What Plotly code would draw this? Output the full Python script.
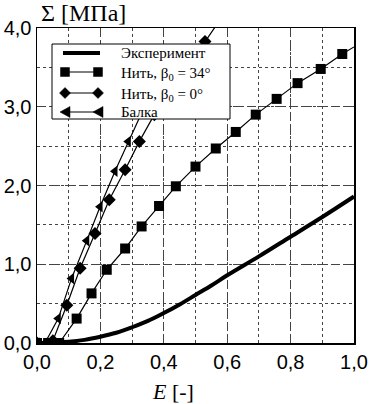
import plotly.graph_objects as go

# Experiment (thick line)
exp_E = [0.0, 0.03, 0.06, 0.1, 0.15, 0.2, 0.25, 0.3, 0.35, 0.4, 0.45, 0.5, 0.55, 0.6, 0.7, 0.8, 0.9, 1.0]
exp_S = [0.0, 0.0, 0.005, 0.015, 0.04, 0.08, 0.13, 0.2, 0.28, 0.38, 0.49, 0.61, 0.73, 0.86, 1.1, 1.35, 1.6, 1.86]

# Нить, beta0 = 34 deg (squares)
sq_E = [0.0, 0.035, 0.07, 0.125, 0.172, 0.22, 0.278, 0.33, 0.385, 0.438, 0.50, 0.564, 0.627, 0.69, 0.756, 0.822, 0.895, 0.963, 1.0]
sq_S = [0.0, 0.0, 0.0, 0.31, 0.63, 0.93, 1.20, 1.48, 1.74, 1.99, 2.24, 2.47, 2.68, 2.90, 3.10, 3.30, 3.48, 3.67, 3.76]

# Нить, beta0 = 0 deg (diamonds)
di_E = [0.0, 0.05, 0.094, 0.136, 0.183, 0.228, 0.278, 0.323, 0.37, 0.42, 0.475, 0.53, 0.585]
di_S = [0.0, 0.03, 0.48, 0.95, 1.39, 1.82, 2.20, 2.56, 2.90, 3.20, 3.50, 3.83, 4.15]

# Балка (left triangles)
tr_E = [0.0, 0.025, 0.067, 0.109, 0.157, 0.199, 0.246, 0.288, 0.33, 0.37, 0.41]
tr_S = [0.0, 0.0, 0.31, 0.82, 1.30, 1.73, 2.18, 2.56, 2.92, 3.25, 3.6]

x_ticks = [0.0, 0.2, 0.4, 0.6, 0.8, 1.0]
y_ticks = [0.0, 1.0, 2.0, 3.0, 4.0]

names = ["Эксперимент", "Нить, β<sub>0</sub> = 34°", "Нить, β<sub>0</sub> = 0°", "Балка"]

SERIF = "Times New Roman"
SANS = "Arial"
W, H = 382, 404
ML, MR, MT, MB = 37, 28, 28, 61
PW, PH = W - ML - MR, H - MT - MB

def px(xp):
    return (xp - ML) / PW

def py(yp):
    return (H - MB - yp) / PH

fig = go.Figure()
fig.add_trace(go.Scatter(x=exp_E, y=exp_S, mode="lines", name=names[0],
                         line=dict(color="black", width=4, shape="spline")))
sq_colors = ["#000000"] * (len(sq_E) - 1) + ["rgba(0,0,0,0)"]
fig.add_trace(go.Scatter(x=sq_E, y=sq_S, mode="lines+markers", name=names[1],
                         line=dict(color="black", width=1.2),
                         marker=dict(symbol="square", size=10, color=sq_colors,
                                     line=dict(width=0))))
fig.add_trace(go.Scatter(x=di_E, y=di_S, mode="lines+markers", name=names[2],
                         line=dict(color="black", width=1.2),
                         marker=dict(symbol="diamond", size=10, color="#000000", line=dict(width=0))))
fig.add_trace(go.Scatter(x=tr_E, y=tr_S, mode="lines+markers", name=names[3],
                         line=dict(color="black", width=1.2),
                         marker=dict(symbol="triangle-left", size=10, color="#000000", line=dict(width=0))))

# ---- hand-built legend (box, samples, labels) ----
shapes = [dict(type="rect", xref="paper", yref="paper", layer="above",
               x0=px(52), x1=px(230), y0=py(119), y1=py(44),
               fillcolor="white", line=dict(color="black", width=1))]
annotations = []
rows_y = [53, 72, 93, 112]
glyphs = [None,
          "M-4.5,-4.5 L4.5,-4.5 L4.5,4.5 L-4.5,4.5 Z",
          "M0,-5.5 L5.5,0 L0,5.5 L-5.5,0 Z",
          "M-5,0 L5,5.5 L5,-5.5 Z"]
widths = [4, 1.2, 1.2, 1.2]
for name, ry, g, lw in zip(names, rows_y, glyphs, widths):
    shapes.append(dict(type="line", xref="paper", yref="paper", layer="above",
                       x0=px(63), x1=px(100), y0=py(ry), y1=py(ry),
                       line=dict(color="black", width=lw)))
    if g:
        for gx in (65, 98):
            shapes.append(dict(type="path", xref="paper", yref="paper", layer="above",
                               xsizemode="pixel", ysizemode="pixel",
                               xanchor=px(gx), yanchor=py(ry), path=g,
                               fillcolor="black", line=dict(color="black", width=0.5)))
    annotations.append(dict(text=name, xref="paper", yref="paper", x=px(119), y=py(ry),
                            xanchor="left", yanchor="middle", showarrow=False,
                            yshift=-2 if "sub" in name else 0,
                            font=dict(family=SERIF, size=15, color="black")))

annotations += [
    dict(text="Σ [МПа]", xref="paper", yref="paper", x=px(39), y=1.0, yshift=MT + 2,
         xanchor="left", yanchor="top", showarrow=False,
         font=dict(family=SERIF, size=24)),
    dict(text="<i>E</i> [-]", xref="paper", yref="paper", x=px(173), y=0, yshift=-34,
         xanchor="center", yanchor="top", showarrow=False,
         font=dict(family=SERIF, size=22)),
]

grid_col = "#444444"
fig.update_layout(
    width=W, height=H,
    margin=dict(l=ML, r=MR, t=MT, b=MB),
    paper_bgcolor="white", plot_bgcolor="white",
    separators=", ",
    font=dict(family=SANS, size=20, color="black"),
    showlegend=False,
    hovermode=False,
    shapes=shapes,
    annotations=annotations,
)
axis_common = dict(showline=True, linecolor="black", linewidth=1.5, mirror=True,
                   ticks="", automargin=False,
                   showgrid=True, gridcolor=grid_col, griddash="9px,5px", gridwidth=1.2,
                   zeroline=False, tickformat=".1f")
fig.update_xaxes(range=[0, 1.0], tickvals=x_ticks,
                 minor=dict(dtick=0.1, showgrid=True, gridcolor=grid_col, griddash="dot", gridwidth=1),
                 **axis_common)
fig.update_yaxes(range=[0, 4.0], tickvals=y_ticks,
                 minor=dict(dtick=0.5, showgrid=True, gridcolor=grid_col, griddash="dot", gridwidth=1),
                 **axis_common)

fig.write_html("out.html", config={"displayModeBar": False, "staticPlot": True},
               post_script="document.body.style.margin='0';document.body.style.overflow='hidden';")
